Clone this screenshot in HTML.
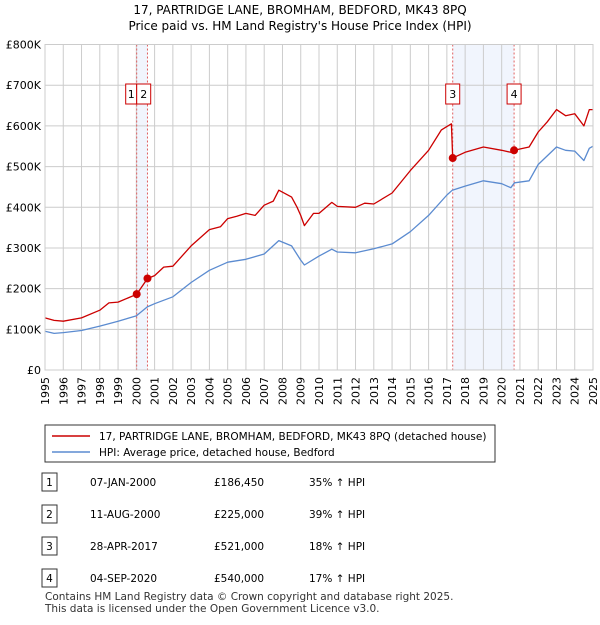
<!DOCTYPE html>
<html><head><meta charset="utf-8">
<style>
body{margin:0;background:#fff;font-family:"Liberation Sans",sans-serif;}
svg text{font-family:"DejaVu Sans","Liberation Sans",sans-serif;}
</style></head>
<body>
<svg id="c" width="600" height="620" xmlns="http://www.w3.org/2000/svg">
<text x="300" y="14" font-size="12" text-anchor="middle" fill="#000">17, PARTRIDGE LANE, BROMHAM, BEDFORD, MK43 8PQ</text>
<text x="300" y="30" font-size="12" text-anchor="middle" fill="#000">Price paid vs. HM Land Registry's House Price Index (HPI)</text>
<g id="plot"></g>
<rect x="45" y="425" width="450" height="37" fill="#fff" stroke="#333"/>
<line x1="52" y1="436" x2="90" y2="436" stroke="#cc0000" stroke-width="1.5"/>
<text x="99" y="440" font-size="10.5">17, PARTRIDGE LANE, BROMHAM, BEDFORD, MK43 8PQ (detached house)</text>
<line x1="52" y1="452" x2="90" y2="452" stroke="#5b8bd0" stroke-width="1.5"/>
<text x="99" y="456" font-size="10.5">HPI: Average price, detached house, Bedford</text>
<g id="tbl" font-size="10.5"></g>
<text x="45" y="600" font-size="10.5" fill="#333">Contains HM Land Registry data © Crown copyright and database right 2025.</text>
<text x="45" y="612" font-size="10.5" fill="#333">This data is licensed under the Open Government Licence v3.0.</text>
</svg>
<script>
const hpiT=[1995,1995.5,1996,1997,1998,1999,2000,2000.6,2001,2002,2003,2004,2005,2006,2007,2007.8,2008.5,2009,2009.2,2010,2010.7,2011,2012,2013,2014,2015,2016,2017,2017.3,2018,2019,2020,2020.5,2020.7,2021.5,2022,2023,2023.5,2024,2024.5,2024.8,2025];
const hpiV=[95,90,92,97,108,120,133,155,163,180,215,245,265,272,285,318,305,270,258,280,297,290,288,298,310,340,380,430,442,452,465,458,448,460,465,505,548,540,538,515,545,550];
const priceT=[1995,1995.5,1996,1997,1998,1998.5,1999,2000.02,2000.61,2001,2001.5,2002,2003,2004,2004.6,2005,2005.5,2006,2006.5,2007,2007.5,2007.8,2008.5,2008.8,2009,2009.2,2009.7,2010,2010.7,2011,2012,2012.5,2013,2014,2015,2016,2016.7,2017.25,2017.32,2018,2019,2020,2020.5,2020.68,2021.5,2022,2022.5,2023,2023.5,2024,2024.5,2024.8,2025];
const priceV=[128,122,120,128,147,165,167,186,225,232,253,255,305,345,352,372,378,385,380,405,415,442,425,400,380,355,385,385,412,402,400,410,408,435,490,540,590,605,521,535,548,540,535,540,548,585,610,640,625,630,600,640,640];
const saleT=[2000.02,2000.61,2017.32,2020.68];
const saleV=[186.45,225,521,540];
const saleLabels=["1","2","3","4"];
const yTicks=[0,100,200,300,400,500,600,700,800];
const yLabels=["£0","£100K","£200K","£300K","£400K","£500K","£600K","£700K","£800K"];
const years=[];for(let y=1995;y<=2025;y++)years.push(y);
const rows=[["1","07-JAN-2000","£186,450","35% ↑ HPI"],["2","11-AUG-2000","£225,000","39% ↑ HPI"],["3","28-APR-2017","£521,000","18% ↑ HPI"],["4","04-SEP-2020","£540,000","17% ↑ HPI"]];

const NS="http://www.w3.org/2000/svg";
const X0=45,X1=593,Y0=370,Y1=44.5;
const sx=t=>X0+(t-1995)/30*(X1-X0);
const sy=v=>Y0-v/800*(Y0-Y1);
const plot=document.getElementById('plot');
function mk(tag,a,p){const e=document.createElementNS(NS,tag);for(const k in a)e.setAttribute(k,a[k]);(p||plot).appendChild(e);return e;}
[[0,1],[2,3]].forEach((pr,i)=>{const r=mk('rect',{x:sx(saleT[pr[0]]),y:Y1,width:sx(saleT[pr[1]])-sx(saleT[pr[0]]),height:Y0-Y1,fill:'#f1f5fd'});

});
years.forEach(y=>{const l=mk('line',{x1:sx(y),x2:sx(y),y1:Y1,y2:Y0,stroke:'#cccccc','stroke-width':1});


const t=mk('text',{x:0,y:0,'font-size':11,'text-anchor':'end',transform:`translate(${sx(y)+4},${Y0+7}) rotate(-90)`});t.textContent=y;

});
yTicks.forEach((v,i)=>{const l=mk('line',{x1:X0,x2:X1,y1:sy(v),y2:sy(v),stroke:'#cccccc','stroke-width':1});


const t=mk('text',{x:X0-4,y:sy(v)+4,'font-size':11,'text-anchor':'end'});t.textContent=yLabels[i];

});
saleT.forEach((t,i)=>{const l=mk('line',{x1:sx(t),x2:sx(t),y1:Y1,y2:Y0,stroke:'#e06060','stroke-width':1,'stroke-dasharray':'2,2'});

});
function path(T,V,c,name){const d=T.map((t,i)=>(i?'L':'M')+sx(t).toFixed(1)+','+sy(V[i]).toFixed(1)).join('');
const p=mk('path',{d:d,fill:'none',stroke:c,'stroke-width':1.3,'stroke-linejoin':'round'});

}
path(hpiT,hpiV,'#5b8bd0','hpi-line');
path(priceT,priceV,'#cc0000','price-line');
saleT.forEach((t,i)=>{const c=mk('circle',{cx:sx(t),cy:sy(saleV[i]),r:4,fill:'#cc0000'});

});
const lblX=[sx(saleT[0])-11,sx(saleT[1])-10,sx(saleT[2])-7,sx(saleT[3])-7];
saleLabels.forEach((s,i)=>{const w=i<2?(i==0?11:14):14;const x=i==0?lblX[0]:(i==1?sx(saleT[0]):lblX[i]);
const g=mk('g',{});


mk('rect',{x:x,y:84,width:w,height:20,fill:'#fff',stroke:'#cc0000'},g);
const t=mk('text',{x:x+w/2,y:98,'font-size':11,'text-anchor':'middle'},g);t.textContent=s;});
mk('rect',{x:X0,y:Y1,width:X1-X0,height:Y0-Y1,fill:'none',stroke:'#ccc'});
const tbl=document.getElementById('tbl');
rows.forEach((r,i)=>{const y=482+i*32;
const g=mk('g',{},tbl);


mk('rect',{x:42,y:y-9,width:15,height:18,fill:'#fff',stroke:'#333'},g);
const a=mk('text',{x:49.5,y:y+4,'text-anchor':'middle'},g);a.textContent=r[0];
const b=mk('text',{x:90,y:y+4},g);b.textContent=r[1];
const c=mk('text',{x:214,y:y+4},g);c.textContent=r[2];
const d=mk('text',{x:309,y:y+4},g);d.textContent=r[3];});
</script>
</body></html>
